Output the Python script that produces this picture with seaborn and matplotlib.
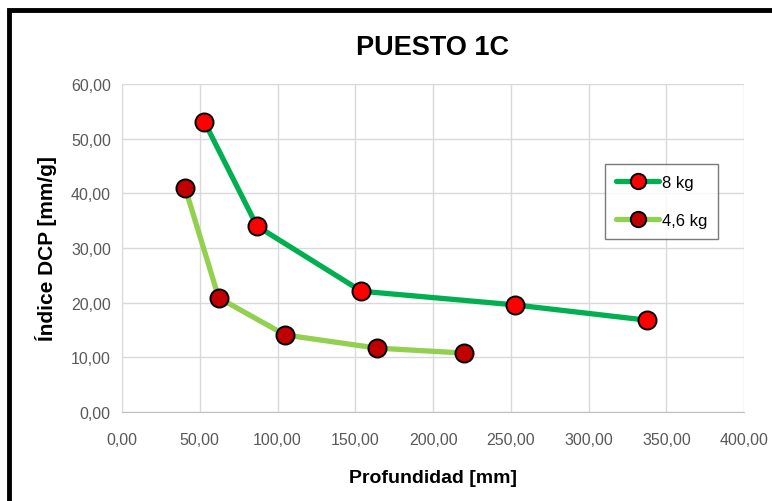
import numpy as np
import pandas as pd
import matplotlib
matplotlib.use("Agg")
import matplotlib.pyplot as plt
from matplotlib.patches import Rectangle
from matplotlib.ticker import FuncFormatter, MultipleLocator
import seaborn as sns

# Datos
prof_8kg = [52.9, 86.8, 153.9, 252.7, 337.6]
dcp_8kg = [53.1, 34.0, 22.1, 19.6, 16.8]
prof_46kg = [40.7, 62.2, 105.0, 164.1, 219.9]
dcp_46kg = [40.9, 20.9, 14.1, 11.7, 10.8]
series_names = ["8 kg", "4,6 kg"]
line_colors = ["#00B050", "#92D050"]
marker_colors = ["#FF0000", "#C00000"]

sns.set_style("white")
plt.rcParams["font.family"] = ["Liberation Sans", "DejaVu Sans"]
plt.rcParams["text.color"] = "black"
plt.rcParams["axes.labelcolor"] = "black"

fig = plt.figure(figsize=(7.72, 5.02), dpi=100)
ax = fig.add_axes([0.158, 0.177, 0.806, 0.654])

data = [(prof_8kg, dcp_8kg), (prof_46kg, dcp_46kg)]
for (xs, ys), name, lc, mc in zip(data, series_names, line_colors, marker_colors):
    df = pd.DataFrame({"x": xs, "y": ys})
    sns.lineplot(data=df, x="x", y="y", ax=ax, color=lc, linewidth=3.8,
                 marker="o", markersize=13, markerfacecolor=mc,
                 markeredgecolor="black", markeredgewidth=1.4,
                 label=name, sort=False)

ax.set_xlim(0, 400)
ax.set_ylim(0, 60)
ax.xaxis.set_major_locator(MultipleLocator(50))
ax.yaxis.set_major_locator(MultipleLocator(10))
fmt = FuncFormatter(lambda v, p: f"{v:.2f}".replace(".", ","))
ax.xaxis.set_major_formatter(fmt)
ax.yaxis.set_major_formatter(fmt)
ax.grid(True, color="#D9D9D9", linewidth=1)
ax.set_axisbelow(True)
for s in ["top", "right"]:
    ax.spines[s].set_visible(False)
ax.spines["left"].set_color("#D9D9D9")
ax.spines["bottom"].set_color("#BFBFBF")
ax.tick_params(axis="both", length=0, labelsize=11.5, labelcolor="#595959")
ax.tick_params(axis="x", pad=14)
ax.tick_params(axis="y", pad=8)

ax.set_xlabel("Profundidad [mm]", fontsize=14, fontweight="bold", labelpad=16)
ax.set_ylabel("Índice DCP [mm/g]", fontsize=15, fontweight="bold", labelpad=10)
fig.text(0.56, 0.905, "PUESTO 1C", ha="center", va="center",
         fontsize=19.5, fontweight="bold")

leg = ax.legend(loc="upper left", bbox_to_anchor=(0.7765, 0.756), frameon=True,
                borderaxespad=0, fancybox=False, edgecolor="#595959", fontsize=12,
                handlelength=2.6, handletextpad=0.15, borderpad=0.65,
                labelspacing=1.4, markerscale=0.85)
leg.get_frame().set_linewidth(1)

fig.patches.append(Rectangle((0.0115, -0.05), 1.05, 1.028, transform=fig.transFigure,
                             fill=False, edgecolor="black", linewidth=3.5))

fig.savefig("out.png", dpi=100)
